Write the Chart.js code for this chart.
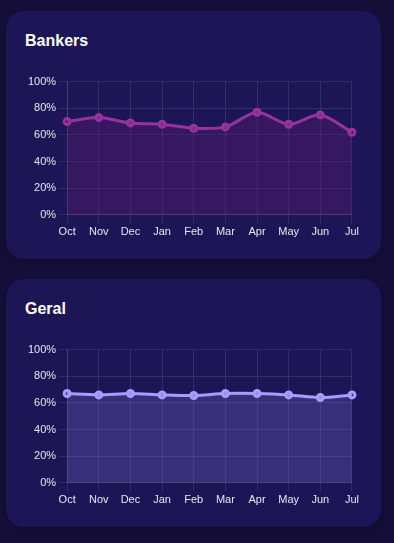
<!DOCTYPE html>
<html>
<head>
<meta charset="utf-8">
<script src="https://cdn.jsdelivr.net/npm/chart.js@4.4.1/dist/chart.umd.min.js"></script>
<style>
  html, body { margin: 0; padding: 0; background: #150f3a; }
  body { width: 394px; height: 543px; overflow: hidden; font-family: "Liberation Sans", Arial, sans-serif; }
  .card {
    position: absolute; left: 6px; width: 375px; height: 248px;
    background: #1c1656; border-radius: 18px;
    box-shadow: 0 3px 10px rgba(0,0,0,0.25);
  }
  .card h2 {
    position: absolute; left: 19px; top: 21px; margin: 0;
    color: #fff; font-size: 16px; font-weight: bold;
  }
  .chart-box { position: absolute; left: 19px; top: 61px; width: 337px; height: 170px; }
</style>
</head>
<body>
<div class="card" style="top:11px">
  <h2>Bankers</h2>
  <div class="chart-box"><canvas id="bankersChart"></canvas></div>
</div>
<div class="card" style="top:279px">
  <h2>Geral</h2>
  <div class="chart-box"><canvas id="geralChart"></canvas></div>
</div>
<script>
const months = ["Oct", "Nov", "Dec", "Jan", "Feb", "Mar", "Apr", "May", "Jun", "Jul"];
const bankersValues = [70, 73, 69, 68, 65, 66, 77, 68, 75, 62];
const geralValues = [67, 66, 67, 66, 65.5, 67, 67, 66, 64, 66];
const yTicks = [0, 20, 40, 60, 80, 100];

function makeChart(id, values, lineColor, fillColor) {
    const ctx = document.getElementById(id).getContext("2d");
    return new Chart(ctx, {
        type: "line",
        data: {
            labels: months,
            datasets: [{
                data: values,
                borderColor: lineColor,
                backgroundColor: fillColor,
                pointBackgroundColor: fillColor,
                pointBorderColor: lineColor,
                pointRadius: 3,
                pointBorderWidth: 3,
                borderWidth: 3,
                tension: 0.3,
                fill: "origin"
            }]
        },
        options: {
            responsive: true,
            maintainAspectRatio: false,
            animation: false,
            layout: { padding: { left: 0, right: 0, top: 4, bottom: 0 } },
            plugins: {
                legend: { display: false },
                tooltip: { enabled: false }
            },
            scales: {
                x: {
                    grid: { color: "rgba(255,255,255,0.1)" },
                    border: { color: "rgba(255,255,255,0.1)" },
                    ticks: { color: "#e5e7eb", font: { size: 11 } }
                },
                y: {
                    min: 0,
                    max: 100,
                    afterBuildTicks: axis => { axis.ticks = yTicks.map(v => ({ value: v })); },
                    grid: { color: "rgba(255,255,255,0.1)" },
                    border: { color: "rgba(255,255,255,0.1)" },
                    ticks: {
                        color: "#e5e7eb",
                        font: { size: 11 },
                        callback: v => v + "%"
                    }
                }
            }
        }
    });
}

makeChart("bankersChart", bankersValues, "#96339e", "rgba(100,30,115,0.35)");
makeChart("geralChart", geralValues, "#a99cff", "rgba(120,105,200,0.3)");
</script>
</body>
</html>
